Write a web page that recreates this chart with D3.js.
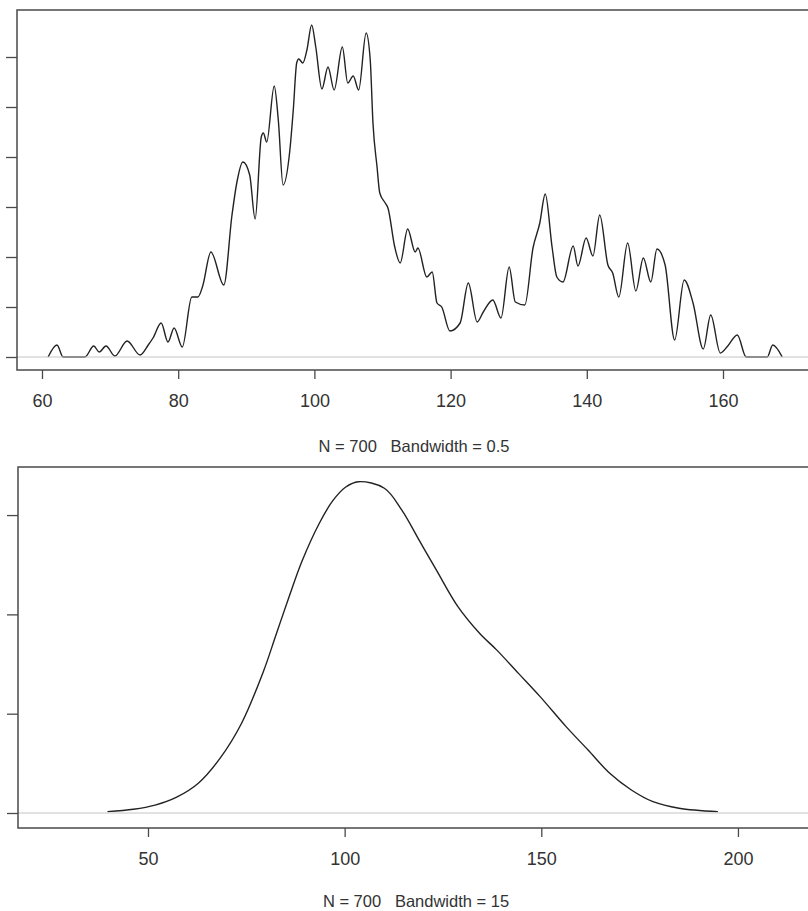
<!DOCTYPE html>
<html>
  <head>
    <meta charset="UTF-8" />
    <title>Density plots</title>
    <style>
      body { margin: 0; background: #fff; }
      text { font-family: Arial, "Liberation Sans", sans-serif; fill: #333; }
      .caption { white-space: pre; }
    </style>
    <script src="https://d3js.org/d3.v7.min.js"></script>
  </head>
  <body>
    <svg id="viz" width="808" height="911"></svg>
    <script>
      // top panel: density, bw = 0.5
      var topX = [60.9, 62.2, 63.1, 66.3, 67.6, 68.4, 69.4, 70.7, 72.5, 74.4,
        75.6, 76.3, 77.5, 78.5, 79.4, 80.6, 82.0, 82.9, 83.6, 84.8,
        86.7, 87.9, 88.6, 89.5, 90.5, 91.3, 92.2, 92.5, 93.0, 94.1,
        94.7, 95.4, 96.4, 96.9, 97.4, 97.7, 98.3, 98.9, 99.6, 100.2,
        101.1, 102.0, 102.9, 104.1, 104.9, 105.7, 106.5, 107.6, 108.2, 108.6,
        109.2, 109.6, 110.4, 110.8, 111.8, 112.6, 113.7, 114.8, 115.2, 116.5,
        117.3, 118.0, 118.7, 119.9, 121.4, 122.6, 123.9, 124.8, 126.2, 127.4,
        128.6, 129.5, 130.9, 132.1, 133.1, 133.9, 134.9, 135.6, 136.5, 138.0,
        138.7, 139.9, 140.9, 141.9, 143.1, 143.8, 144.7, 146.0, 147.2, 148.3,
        149.4, 150.3, 151.5, 152.9, 154.3, 155.6, 157.1, 158.2, 159.6, 160.7,
        162.1, 163.4, 166.5, 167.3, 168.7];
      var topDensity = [0, 0.0012, 0, 0, 0.0011, 0.0005, 0.0011, 0.0001, 0.0016, 0.0002,
        0.0012, 0.0019, 0.0034, 0.0015, 0.0029, 0.0010, 0.0060, 0.0060, 0.0071, 0.0105,
        0.0072, 0.0142, 0.0174, 0.0195, 0.0182, 0.0138, 0.0220, 0.0224, 0.0215, 0.0271,
        0.0237, 0.0172, 0.0207, 0.0247, 0.0294, 0.0298, 0.0294, 0.0307, 0.0332, 0.0310,
        0.0268, 0.0290, 0.0267, 0.0310, 0.0274, 0.0281, 0.0267, 0.0324, 0.0297, 0.0234,
        0.0190, 0.0164, 0.0154, 0.0149, 0.0110, 0.0094, 0.0128, 0.0105, 0.0109, 0.0080,
        0.0085, 0.0054, 0.0050, 0.0026, 0.0034, 0.0074, 0.0035, 0.0045, 0.0057, 0.0039,
        0.0090, 0.0055, 0.0052, 0.0109, 0.0134, 0.0163, 0.0110, 0.0080, 0.0075, 0.0111,
        0.0091, 0.0119, 0.0101, 0.0142, 0.0092, 0.0084, 0.0060, 0.0114, 0.0066, 0.0099,
        0.0075, 0.0108, 0.0092, 0.0017, 0.0077, 0.0054, 0.0008, 0.0042, 0.0004, 0.0011,
        0.0022, 0, 0, 0.0012, 0];

      // bottom panel: density, bw = 15
      var botX = [39.7, 46.3, 51.8, 57.3, 62.8, 68.3, 73.8, 79.3, 82.6, 85.9,
        89.2, 93.6, 96.9, 100.2, 103.5, 110.1, 114.5, 118.9, 123.3, 128.8,
        134.3, 138.7, 144.2, 149.7, 156.3, 161.9, 167.4, 172.9, 178.4, 185.0, 194.9];
      var botDensity = [0.00007, 0.00019, 0.00040, 0.00080, 0.00150, 0.00275, 0.00452, 0.00710, 0.00900, 0.01090,
        0.01270, 0.01460, 0.01570, 0.01640, 0.01668, 0.01635, 0.01526, 0.01375, 0.01224, 0.01039,
        0.00905, 0.00820, 0.00703, 0.00586, 0.00435, 0.00317, 0.00200, 0.00116, 0.00057, 0.00024, 0.00007];

      var topXTicks = [60, 80, 100, 120, 140, 160];
      var topYTicks = [0, 0.005, 0.01, 0.015, 0.02, 0.025, 0.03];
      var botXTicks = [50, 100, 150, 200];
      var botYTicks = [0, 0.005, 0.01, 0.015];
      var captions = ["N = 700   Bandwidth = 0.5", "N = 700   Bandwidth = 15"];

      var svg = d3.select("#viz");

      function panel(cfg) {
        var g = svg.append("g");
        var x = d3.scaleLinear().domain(cfg.xDomain).range([cfg.left, cfg.right]);
        var y = d3.scaleLinear().domain(cfg.yDomain).range([cfg.bottom, cfg.top]);
        var pts = cfg.xs.map((v, i) => [v, cfg.ys[i]]);

        // curve first, then the grey zero line over it like R does
        g.append("path")
          .datum(pts)
          .attr("fill", "none")
          .attr("stroke", "#222")
          .attr("stroke-width", 1.4)
          .attr("stroke-linejoin", "round")
          .attr("d", d3.line().x(d => x(d[0])).y(d => y(d[1])).curve(cfg.curve));

        g.append("line")
          .attr("x1", cfg.left).attr("x2", cfg.right)
          .attr("y1", y(0)).attr("y2", y(0))
          .attr("stroke", "#c4c4c4").attr("stroke-width", 1);

        // frame
        g.append("rect")
          .attr("x", cfg.left).attr("y", cfg.top)
          .attr("width", cfg.right - cfg.left).attr("height", cfg.bottom - cfg.top)
          .attr("fill", "none").attr("stroke", "#4a4a4a").attr("stroke-width", 1.5);

        var xa = g.append("g")
          .attr("transform", "translate(0," + cfg.bottom + ")")
          .call(d3.axisBottom(x).tickValues(cfg.xTicks).tickSize(9).tickPadding(15).tickFormat(d3.format("d")));
        xa.select(".domain").remove();
        xa.selectAll("line").attr("stroke", "#4a4a4a").attr("stroke-width", 1.3);
        xa.selectAll("text").attr("font-size", 18).attr("fill", "#333")
          .style("font-family", "Arial, 'Liberation Sans', sans-serif");

        var ya = g.append("g")
          .attr("transform", "translate(" + cfg.left + ",0)")
          .call(d3.axisLeft(y).tickValues(cfg.yTicks).tickSize(11).tickFormat(""));
        ya.select(".domain").remove();
        ya.selectAll("line").attr("stroke", "#4a4a4a").attr("stroke-width", 1.3);

        g.append("text")
          .attr("class", "caption")
          .attr("x", cfg.capX).attr("y", cfg.capY)
          .attr("text-anchor", "middle")
          .attr("font-size", 16.5)
          .text(cfg.caption);
      }

      panel({
        xs: topX, ys: topDensity, curve: d3.curveMonotoneX,
        xDomain: [56.33, 60 + (812 - 42) / 6.81], yDomain: [-0.0013, 0.0347],
        left: 17, right: 812, top: 10, bottom: 370,
        xTicks: topXTicks, yTicks: topYTicks,
        caption: captions[0], capX: 414, capY: 452
      });

      panel({
        xs: botX, ys: botDensity, curve: d3.curveCatmullRom.alpha(0.5),
        xDomain: [16.95, 50 + (812 - 148) / 3.933], yDomain: [-0.000755, 0.01742],
        left: 18, right: 812, top: 467, bottom: 828,
        xTicks: botXTicks, yTicks: botYTicks,
        caption: captions[1], capX: 416, capY: 907
      });
    </script>
  </body>
</html>
